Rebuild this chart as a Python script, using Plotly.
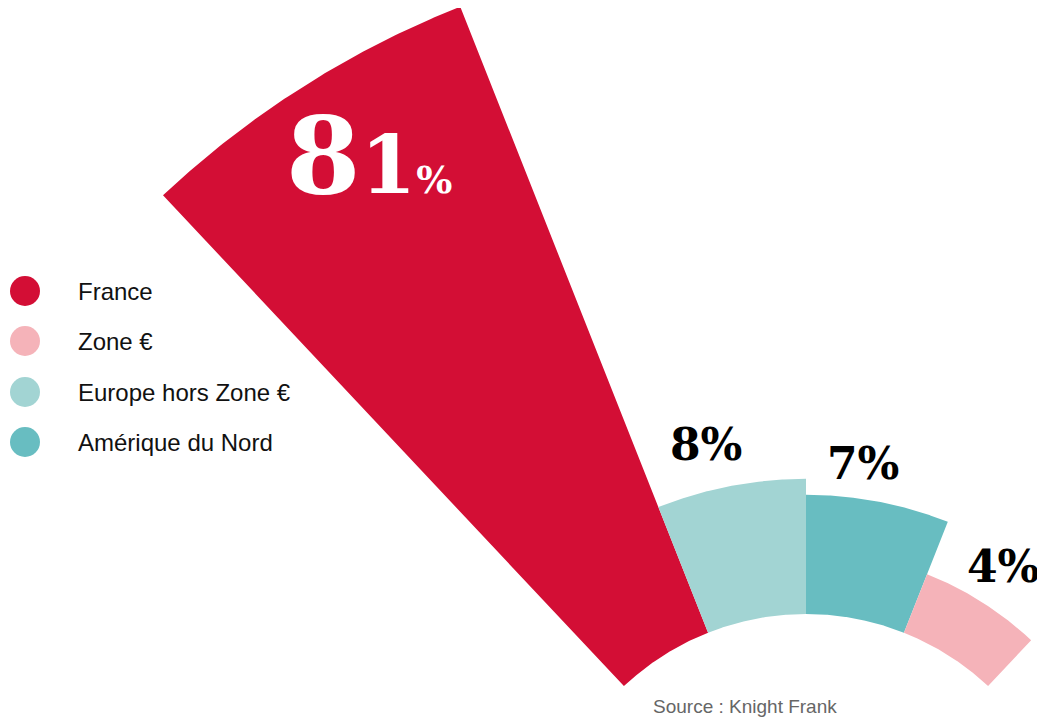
import numpy as np
import plotly.graph_objects as go

# --- données ---
categories = ["France", "Zone €", "Europe hors Zone €", "Amérique du Nord"]
values = [81, 4, 8, 7]
colors = ["#d30e35", "#f5b3b9", "#a2d4d3", "#68bdc1"]
source = "Source : Knight Frank"

# --- géométrie (1 unité d'axe = 1 px de l'écran) ---
W, H = 1045, 717
PAGE_MARGIN = 8            # marge par défaut du <body>
CX, CY = 806, 880          # centre du demi-cercle (hors cadre)
HOLE = 266                 # rayon intérieur
R_ZERO, R_SCALE = 154.5, 87.2   # échelle racine carrée pour le rayon
START, STEP = 133.2, 21.6  # angle de départ et largeur d'une barre (degrés)

# décalage des étiquettes par rang (angle, rayon)
label_dang = [-1.3, 2.1, 3.0, 0.2]
label_dr = [-93, 46, 35, 41]


def radius(v):
    return R_ZERO + R_SCALE * np.sqrt(v)


def to_xy(r, ang):
    a = np.deg2rad(ang)
    return CX + r * np.cos(a), CY - r * np.sin(a)


fig = go.Figure()
annotations = []

# barres rangées par valeur décroissante, de gauche à droite
order = sorted(range(len(values)), key=lambda i: -values[i])
for rank, i in enumerate(order):
    a0 = START - STEP * rank
    a1 = a0 - STEP
    ro = radius(values[i])
    t = np.linspace(a0, a1, 90)
    xo, yo = to_xy(ro, t)
    xi, yi = to_xy(HOLE, t[::-1])
    xs = np.concatenate([xo, xi, xo[:1]])
    ys = np.concatenate([yo, yi, yo[:1]])
    fig.add_trace(go.Scatter(
        x=xs, y=ys, mode="lines", fill="toself",
        fillcolor=colors[i], line=dict(width=0, color=colors[i]),
        name=categories[i], showlegend=False, hoverinfo="name"
    ))

    lx, ly = to_xy(ro + label_dr[rank], (a0 + a1) / 2 + label_dang[rank])
    txt = str(values[i])
    if rank == 0:
        text = (f"{txt[0]}<span style='font-size:80px'>{txt[1:]}</span>"
                f"<span style='font-size:38px'>%</span>")
        annotations.append(dict(x=lx, y=ly, text=text, showarrow=False,
                                xanchor="center", yanchor="middle",
                                font=dict(family="DejaVu Serif", size=107, color="white",
                                          weight="bold")))
    else:
        annotations.append(dict(x=lx, y=ly, text=f"{txt}%", showarrow=False,
                                xanchor="center", yanchor="middle",
                                font=dict(family="DejaVu Serif", size=44, color="black",
                                          weight="bold")))

# --- légende manuelle ---
leg_y = [291, 341, 392, 442]
fig.add_trace(go.Scatter(
    x=[25] * len(categories), y=leg_y, mode="markers",
    marker=dict(size=30, color=colors, line=dict(width=0)),
    showlegend=False, hoverinfo="skip"
))
for name, y in zip(categories, leg_y):
    annotations.append(dict(x=76, y=y, text=name, showarrow=False,
                            xanchor="left", yanchor="middle",
                            font=dict(family="Liberation Sans", size=24, color="#111111")))

annotations.append(dict(x=745, y=706, text=source, showarrow=False,
                        xanchor="center", yanchor="middle",
                        font=dict(family="Liberation Sans", size=19, color="#666666")))

fig.update_layout(
    width=W, height=H, margin=dict(l=0, r=0, t=0, b=0),
    paper_bgcolor="white", plot_bgcolor="white",
    xaxis=dict(range=[PAGE_MARGIN, W + PAGE_MARGIN], visible=False, fixedrange=True),
    yaxis=dict(range=[H + PAGE_MARGIN, PAGE_MARGIN], visible=False, fixedrange=True),
    annotations=annotations, showlegend=False
)

fig.write_html("out.html")
